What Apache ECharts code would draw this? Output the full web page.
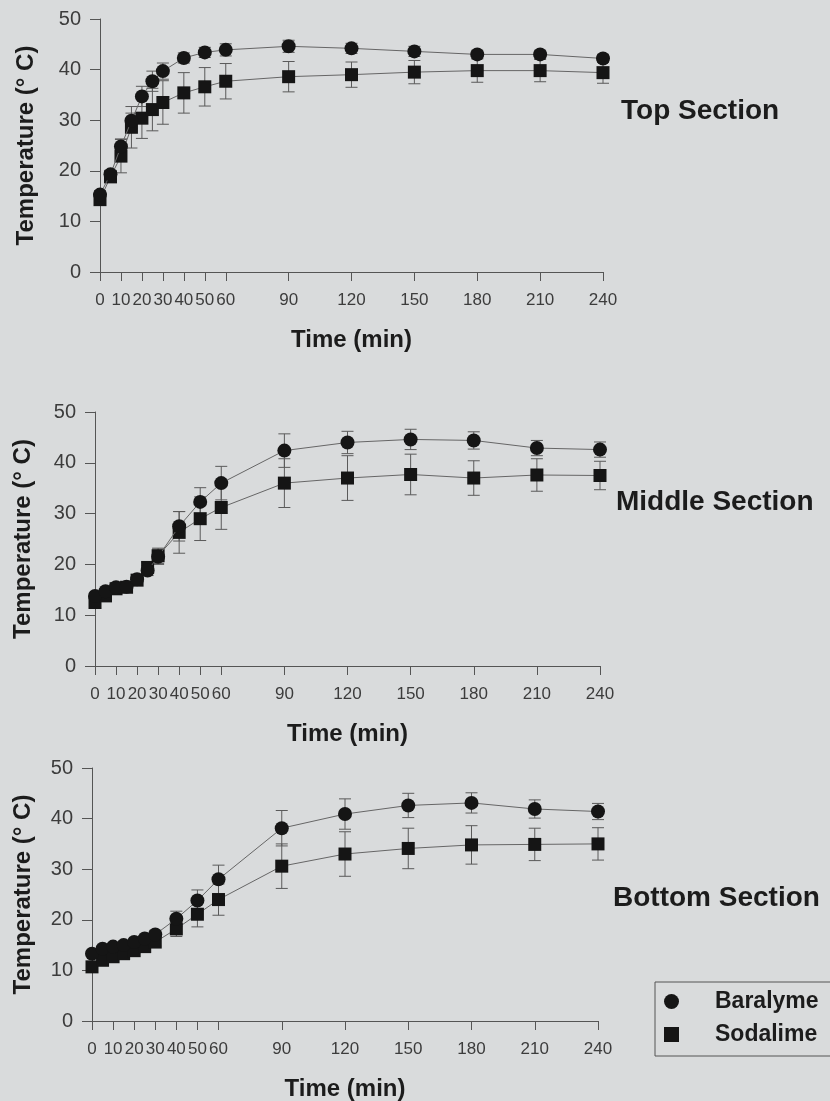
<!DOCTYPE html>
<html>
<head>
<meta charset="utf-8">
<script src="https://cdn.jsdelivr.net/npm/echarts@6.0.0/dist/echarts.min.js"></script>
<style>
html, body { margin: 0; padding: 0; background: #d9dbdc; }
#main { width: 830px; height: 1101px; }
</style>
</head>
<body>
<div id="main"></div>
<script>
// sampling times (min)
const times = [0, 5, 10, 15, 20, 25, 30, 40, 50, 60, 90, 120, 150, 180, 210, 240];
const xTickValues = [0, 10, 20, 30, 40, 50, 60, 90, 120, 150, 180, 210, 240];
const sectionNames = ['Top Section', 'Middle Section', 'Bottom Section'];

// temperature (°C), mean and error
const topBaralyme = [15.3, 19.3, 24.8, 29.9, 34.7, 37.7, 39.7, 42.3, 43.4, 43.9, 44.6, 44.2, 43.6, 43.0, 43.0, 42.2];
const topBaralymeErr = [0.8, 0.8, 1.5, 1.5, 2.0, 2.0, 1.6, 1.0, 1.0, 1.2, 1.2, 1.0, 1.0, 0.8, 0.8, 0.8];
const topSodalime = [14.3, 18.8, 22.9, 28.6, 30.4, 32.1, 33.5, 35.4, 36.6, 37.7, 38.6, 39.0, 39.5, 39.8, 39.8, 39.4];
const topSodalimeErr = [0.6, 0.8, 3.3, 4.1, 4.0, 4.2, 4.3, 4.0, 3.8, 3.5, 3.0, 2.5, 2.3, 2.3, 2.2, 2.1];

const midBaralyme = [13.8, 14.7, 15.5, 15.6, 17.1, 18.8, 21.5, 27.5, 32.3, 36.0, 42.4, 44.0, 44.6, 44.4, 42.9, 42.6];
const midBaralymeErr = [0.5, 0.5, 0.5, 0.5, 0.6, 1.0, 1.5, 2.9, 2.8, 3.3, 3.3, 2.2, 2.0, 1.7, 1.5, 1.5];
const midSodalime = [12.5, 13.8, 15.2, 15.5, 16.9, 19.4, 21.7, 26.3, 29.0, 31.2, 36.0, 37.0, 37.7, 37.0, 37.6, 37.5];
const midSodalimeErr = [0.5, 0.5, 0.5, 0.5, 0.6, 1.0, 1.5, 4.1, 4.3, 4.3, 4.8, 4.4, 4.0, 3.4, 3.2, 2.8];

const botBaralyme = [13.3, 14.3, 14.7, 15.0, 15.6, 16.3, 17.1, 20.2, 23.8, 28.0, 38.1, 40.9, 42.6, 43.1, 41.9, 41.4];
const botBaralymeErr = [0.5, 0.5, 0.5, 0.5, 0.5, 0.6, 0.8, 1.5, 2.1, 2.8, 3.5, 3.0, 2.4, 2.0, 1.8, 1.6];
const botSodalime = [10.7, 12.0, 12.7, 13.3, 13.9, 14.7, 15.6, 18.2, 21.1, 24.0, 30.6, 33.0, 34.1, 34.8, 34.9, 35.0];
const botSodalimeErr = [0.5, 0.5, 0.5, 0.5, 0.5, 0.6, 0.8, 1.5, 2.5, 3.1, 4.4, 4.4, 4.0, 3.8, 3.2, 3.2];

const panels = [
    { bar: topBaralyme, barErr: topBaralymeErr, soda: topSodalime, sodaErr: topSodalimeErr },
    { bar: midBaralyme, barErr: midBaralymeErr, soda: midSodalime, sodaErr: midSodalimeErr },
    { bar: botBaralyme, barErr: botBaralymeErr, soda: botSodalime, sodaErr: botSodalimeErr }
];

const FONT = 'Liberation Sans, Arial, Helvetica, sans-serif';
const grids = [
    { left: 100, top: 19, width: 503, height: 253 },
    { left: 95, top: 412, width: 505, height: 254 },
    { left: 92, top: 768, width: 506, height: 253 }
];
const yNameGaps = [62, 60, 57];
const titlePos = [[621, 97], [616, 488], [613, 884]];

function renderErr(params, api) {
    const x = api.value(0), m = api.value(1), e = api.value(2);
    const hi = api.coord([x, m + e]);
    const lo = api.coord([x, m - e]);
    const w = 6;
    const st = { stroke: '#5a5a5a', lineWidth: 1 };
    return {
        type: 'group',
        children: [
            { type: 'line', shape: { x1: hi[0], y1: hi[1], x2: lo[0], y2: lo[1] }, style: st },
            { type: 'line', shape: { x1: hi[0] - w, y1: hi[1], x2: hi[0] + w, y2: hi[1] }, style: st },
            { type: 'line', shape: { x1: lo[0] - w, y1: lo[1], x2: lo[0] + w, y2: lo[1] }, style: st }
        ]
    };
}

const xAxes = [], yAxes = [], series = [];
grids.forEach((g, i) => {
    xAxes.push({
        gridIndex: i, type: 'value', min: 0, max: 240,
        name: 'Time (min)', nameLocation: 'middle', nameGap: 56,
        nameTextStyle: { fontFamily: FONT, fontSize: 24, fontWeight: 'bold', color: '#1c1c1c' },
        axisLine: { show: true, lineStyle: { color: '#555', width: 1 } },
        axisTick: { show: true, length: 9, customValues: xTickValues, lineStyle: { color: '#555' } },
        axisLabel: { customValues: xTickValues, margin: 20, hideOverlap: false,
            fontFamily: FONT, fontSize: 17, color: '#3c3c3c' },
        splitLine: { show: false }
    });
    yAxes.push({
        gridIndex: i, type: 'value', min: 0, max: 50, interval: 10,
        name: 'Temperature (° C)', nameLocation: 'middle', nameGap: yNameGaps[i],
        nameTextStyle: { fontFamily: FONT, fontSize: 24, fontWeight: 'bold', color: '#1c1c1c' },
        axisLine: { show: true, lineStyle: { color: '#555', width: 1 } },
        axisTick: { show: true, length: 10, lineStyle: { color: '#555' } },
        axisLabel: { margin: 19, fontFamily: FONT, fontSize: 20, color: '#3c3c3c' },
        splitLine: { show: false }
    });
    const p = panels[i];
    series.push({
        type: 'custom', xAxisIndex: i, yAxisIndex: i, z: 1,
        renderItem: renderErr, encode: { x: 0, y: 1 },
        data: times.map((t, k) => [t, p.soda[k], p.sodaErr[k]])
    });
    series.push({
        type: 'custom', xAxisIndex: i, yAxisIndex: i, z: 1,
        renderItem: renderErr, encode: { x: 0, y: 1 },
        data: times.map((t, k) => [t, p.bar[k], p.barErr[k]])
    });
    series.push({
        name: 'Sodalime', type: 'line', xAxisIndex: i, yAxisIndex: i, z: 3,
        symbol: 'rect', symbolSize: 13,
        itemStyle: { color: '#151515' },
        lineStyle: { color: '#666', width: 1 },
        data: times.map((t, k) => [t, p.soda[k]])
    });
    series.push({
        name: 'Baralyme', type: 'line', xAxisIndex: i, yAxisIndex: i, z: 4,
        symbol: 'circle', symbolSize: 14,
        itemStyle: { color: '#151515' },
        lineStyle: { color: '#666', width: 1 },
        data: times.map((t, k) => [t, p.bar[k]])
    });
});

const chart = echarts.init(document.getElementById('main'));
chart.setOption({
    backgroundColor: '#d9dbdc',
    animation: false,
    title: sectionNames.map((s, i) => ({
        text: s, left: titlePos[i][0], top: titlePos[i][1], padding: 0,
        textStyle: { fontFamily: FONT, fontSize: 28, fontWeight: 'bold', color: '#1c1c1c' }
    })),
    legend: {
        orient: 'vertical', left: 655, top: 982,
        padding: [8, 40, 10, 9], itemGap: 10,
        itemWidth: 15, itemHeight: 15,
        borderColor: '#555', borderWidth: 1,
        textStyle: { fontFamily: FONT, fontSize: 23, fontWeight: 'bold', color: '#1c1c1c', padding: [0, 0, 0, 31] },
        data: [{ name: 'Baralyme', icon: 'circle' }, { name: 'Sodalime', icon: 'rect' }]
    },
    grid: grids.map(g => Object.assign({ outerBoundsMode: 'none' }, g)),
    xAxis: xAxes,
    yAxis: yAxes,
    series: series
});
</script>
</body>
</html>
